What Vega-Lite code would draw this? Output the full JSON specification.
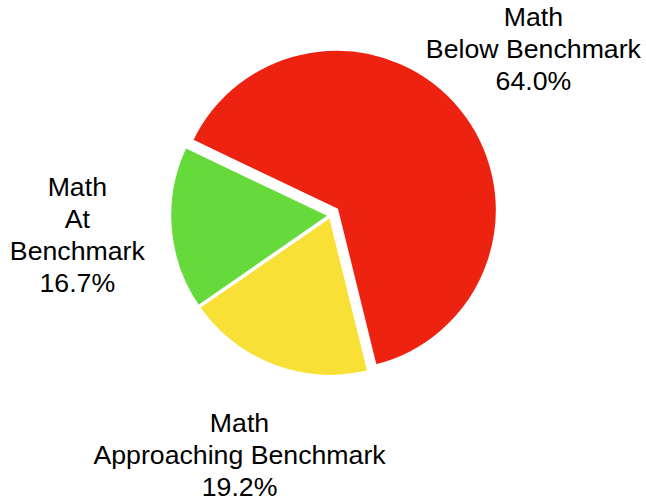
{
  "$schema": "https://vega.github.io/schema/vega-lite/v6.json",
  "width": 633,
  "height": 431,
  "autosize": "none",
  "padding": {"left": 14, "top": 0, "right": 0, "bottom": 73},
  "background": "white",
  "view": {"stroke": null},
  "data": {
    "values": [
      {"cat": "Below", "ord": 1, "pct": 64.0, "label": "Math\nBelow Benchmark\n64.0%"},
      {"cat": "Approaching", "ord": 2, "pct": 19.2, "label": "Math\nApproaching Benchmark\n19.2%"},
      {"cat": "At", "ord": 3, "pct": 16.7, "label": "Math\nAt\nBenchmark\n16.7%"}
    ]
  },
  "encoding": {
    "theta": {"field": "pct", "type": "quantitative", "stack": true, "scale": {"range": [-1.1257, 5.1575]}},
    "order": {"field": "ord", "type": "quantitative"}
  },
  "layer": [
    {
      "mark": {"type": "arc", "radius": 161, "stroke": "white", "strokeWidth": 3.5},
      "encoding": {
        "color": {"field": "cat", "type": "nominal", "legend": null,
          "scale": {"domain": ["Below", "Approaching", "At"], "range": ["#ee2211", "#f9e036", "#66da3a"]}},
        "opacity": {"condition": {"test": "datum.cat === 'Below'", "value": 0}, "value": 1}
      }
    },
    {
      "mark": {"type": "arc", "radius": 161, "stroke": "white", "strokeWidth": 3.5, "xOffset": 6, "yOffset": -5.5},
      "encoding": {
        "color": {"field": "cat", "type": "nominal", "legend": null},
        "opacity": {"condition": {"test": "datum.cat === 'Below'", "value": 1}, "value": 0}
      }
    },
    {
      "mark": {"type": "text", "radius": 254, "font": "Liberation Sans", "fontSize": 26.7, "lineHeight": 32, "lineBreak": "\n", "align": "center", "baseline": "middle", "color": "black", "xOffset": 6, "yOffset": -5.5, "dy": -32},
      "encoding": {
        "text": {"field": "label", "type": "nominal"},
        "opacity": {"condition": {"test": "datum.cat === 'Below'", "value": 1}, "value": 0}
      }
    },
    {
      "mark": {"type": "text", "radius": 257, "font": "Liberation Sans", "fontSize": 26.7, "lineHeight": 32, "lineBreak": "\n", "align": "center", "baseline": "middle", "color": "black", "dy": -32},
      "encoding": {
        "text": {"field": "label", "type": "nominal"},
        "opacity": {"condition": {"test": "datum.cat === 'Approaching'", "value": 1}, "value": 0}
      }
    },
    {
      "mark": {"type": "text", "radius": 254, "font": "Liberation Sans", "fontSize": 26.7, "lineHeight": 32, "lineBreak": "\n", "align": "center", "baseline": "middle", "color": "black", "dy": -48},
      "encoding": {
        "text": {"field": "label", "type": "nominal"},
        "opacity": {"condition": {"test": "datum.cat === 'At'", "value": 1}, "value": 0}
      }
    }
  ]
}
